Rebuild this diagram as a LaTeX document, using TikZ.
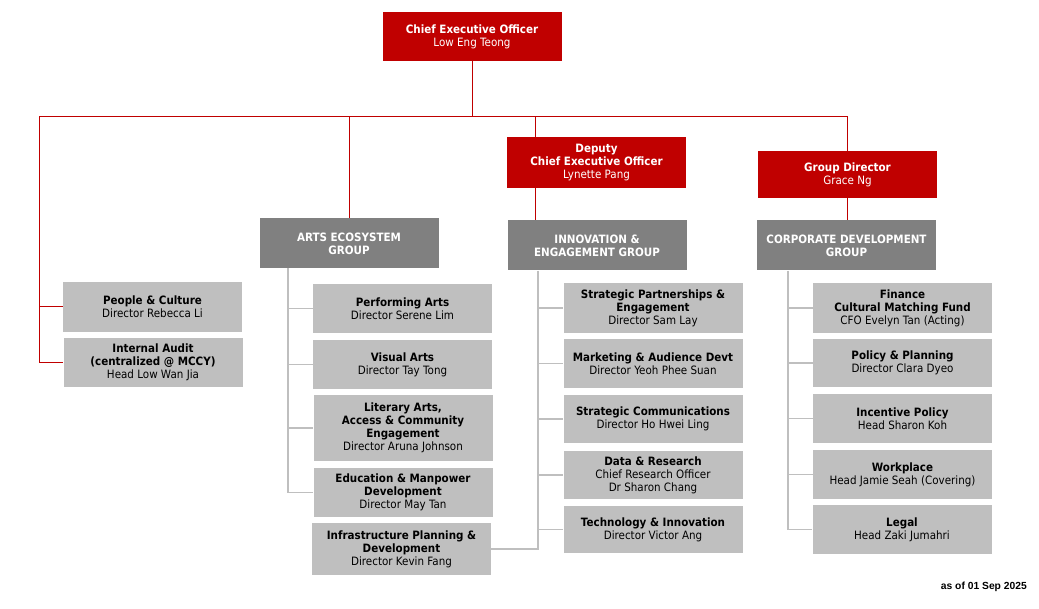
\documentclass[tikz,border=0pt]{standalone}
\usepackage{fontspec}
\setmainfont{DejaVu Sans}[FakeStretch=0.9]
\newfontfamily\datefont{Liberation Sans}
\usepackage{tikz}
\usetikzlibrary{calc, positioning}
\definecolor{nacred}{HTML}{C00000}
\definecolor{groupgrey}{HTML}{808080}
\definecolor{unitgrey}{HTML}{BFBFBF}
\definecolor{railgrey}{HTML}{BFBFBF}
\tikzstyle{headbox} = [rectangle, fill=nacred, text=white, align=center, inner sep=2pt, minimum width=179pt, font=\fontsize{11.5}{13}\selectfont]
\tikzstyle{groupbox} = [rectangle, fill=groupgrey, text=white, align=center, inner sep=2pt, minimum width=179pt, minimum height=50pt, font=\fontsize{11.5}{13}\selectfont\bfseries]
\tikzstyle{unitbox} = [rectangle, fill=unitgrey, text=black, align=center, inner sep=2pt, minimum width=179pt, minimum height=49pt, font=\fontsize{11.5}{13}\selectfont]
\tikzstyle{redline} = [draw=nacred, line width=1pt]
\tikzstyle{greyline} = [draw=railgrey, line width=1.2pt]

\begin{document}
\begin{tikzpicture}[x=1pt, y=-1pt]

        \useasboundingbox[fill=white] (0, 0) rectangle (1039, 609);

        \node[headbox, minimum height=49pt] at (472, 36.5) (CEO) {\textbf{Chief Executive Officer}\\Low Eng Teong};
        \node[headbox, minimum height=51pt] at (596.5, 162.5) (DeputyCEO) {\textbf{Deputy}\\\textbf{Chief Executive Officer}\\Lynette Pang};
        \node[headbox, minimum height=47pt] at (847.5, 174.5) (GroupDirector) {\textbf{Group Director}\\Grace Ng};

        \node[groupbox] at (349, 243.5) (ArtsEcosystem) {ARTS ECOSYSTEM\\GROUP};
        \node[groupbox] at (597, 245.5) (InnovationEngagement) {INNOVATION \&\\ENGAGEMENT GROUP};
        \node[groupbox] at (846.5, 245.5) (CorporateDevelopment) {CORPORATE DEVELOPMENT\\GROUP};

        \node[unitbox, minimum height=50pt] at (152.5, 307) (PeopleCulture) {\textbf{People \& Culture}\\Director Rebecca Li};
        \node[unitbox] at (153, 362.5) (InternalAudit) {\textbf{Internal Audit}\\\textbf{(centralized @ MCCY)}\\Head Low Wan Jia};

        \node[unitbox] at (402.5, 308.5) (PerformingArts) {\textbf{Performing Arts}\\Director Serene Lim};
        \node[unitbox] at (402.5, 364.5) (VisualArts) {\textbf{Visual Arts}\\Director Tay Tong};
        \node[unitbox, minimum height=66pt] at (403, 428) (LiteraryArts) {\textbf{Literary Arts,}\\\textbf{Access \& Community}\\\textbf{Engagement}\\Director Aruna Johnson};
        \node[unitbox] at (403, 492.5) (EducationManpower) {\textbf{Education \& Manpower}\\\textbf{Development}\\Director May Tan};
        \node[unitbox, minimum height=52pt] at (401.5, 549) (InfrastructurePlanning) {\textbf{Infrastructure Planning \&}\\\textbf{Development}\\Director Kevin Fang};

        \node[unitbox, minimum height=50pt] at (653, 308) (StrategicPartnerships) {\textbf{Strategic Partnerships \&}\\\textbf{Engagement}\\Director Sam Lay};
        \node[unitbox] at (653, 363.5) (MarketingAudience) {\textbf{Marketing \& Audience Devt}\\Director Yeoh Phee Suan};
        \node[unitbox, minimum height=48pt] at (653, 419) (StrategicComms) {\textbf{Strategic Communications}\\Director Ho Hwei Ling};
        \node[unitbox, minimum height=48pt] at (653, 475) (DataResearch) {\textbf{Data \& Research}\\Chief Research Officer\\Dr Sharon Chang};
        \node[unitbox, minimum height=47pt] at (653, 529.5) (TechnologyInnovation) {\textbf{Technology \& Innovation}\\Director Victor Ang};

        \node[unitbox, minimum height=50pt] at (902.5, 308) (Finance) {\textbf{Finance}\\\textbf{Cultural Matching Fund}\\CFO Evelyn Tan (Acting)};
        \node[unitbox, minimum height=48pt] at (902.5, 363) (PolicyPlanning) {\textbf{Policy \& Planning}\\Director Clara Dyeo};
        \node[unitbox] at (902.5, 418.5) (IncentivePolicy) {\textbf{Incentive Policy}\\Head Sharon Koh};
        \node[unitbox] at (902.5, 474.5) (Workplace) {\textbf{Workplace}\\Head Jamie Seah (Covering)};
        \node[unitbox] at (902, 529.5) (Legal) {\textbf{Legal}\\Head Zaki Jumahri};

        \node[anchor=base east, inner sep=0pt, font=\datefont\fontsize{10.3}{12}\selectfont\bfseries] at (1027, 589) (AsOf) {as of 01 Sep 2025};

        \coordinate (BarLeft) at (39, 117);
        \coordinate (BarRight) at (847.5, 117);
        \coordinate (DeputyRail) at (535, 117);
        \coordinate (ArtsRail) at (288, 268);
        \coordinate (InnovationRail) at (538, 271);
        \coordinate (CorporateRail) at (788, 271);

        \draw[redline] (CEO.south) -- (CEO.south |- BarLeft);
        \draw[redline] (BarLeft) -- (BarRight) -- (GroupDirector.north);
        \draw[redline] (GroupDirector.south) -- (GroupDirector.south |- CorporateDevelopment.north);
        \draw[redline] (ArtsEcosystem.north) -- (ArtsEcosystem.north |- BarLeft);
        \draw[redline] (DeputyRail) -- (DeputyRail |- DeputyCEO.north);
        \draw[redline] (DeputyRail |- DeputyCEO.south) -- (DeputyRail |- InnovationEngagement.north);
        \draw[redline] (BarLeft) |- (InternalAudit.west);
        \draw[redline] (BarLeft |- PeopleCulture.west) -- (PeopleCulture.west);

        \draw[greyline] (ArtsRail) |- (EducationManpower.west);
        \foreach \unit in {PerformingArts, VisualArts, LiteraryArts}
            \draw[greyline] (ArtsRail |- \unit.west) -- (\unit.west);

        \draw[greyline] (InnovationRail) |- (InfrastructurePlanning.east);
        \foreach \unit in {StrategicPartnerships, MarketingAudience, StrategicComms, DataResearch, TechnologyInnovation}
            \draw[greyline] (InnovationRail |- \unit.west) -- (\unit.west);

        \draw[greyline] (CorporateRail) |- (Legal.west);
        \foreach \unit in {Finance, PolicyPlanning, IncentivePolicy, Workplace}
            \draw[greyline] (CorporateRail |- \unit.west) -- (\unit.west);

    \end{tikzpicture}
\end{document}
